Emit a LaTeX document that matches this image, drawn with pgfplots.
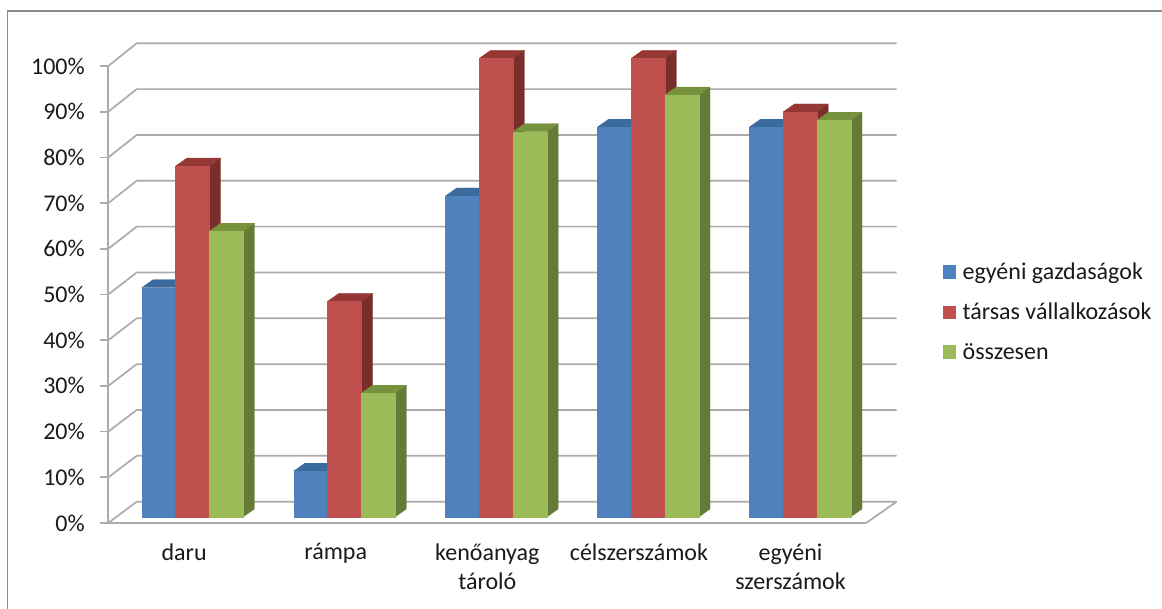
\documentclass[border=0pt]{standalone}
\usepackage{pgfplots}
\pgfplotsset{compat=1.18}
\usepackage{fontspec}
\setmainfont{Carlito}
\definecolor{gridgray}{HTML}{ABABAB}
\definecolor{framegray}{HTML}{8C8C8C}
\definecolor{inktext}{HTML}{1A1A1A}
\definecolor{bluefront}{HTML}{4F81BD}
\definecolor{bluetop}{HTML}{3B6A9C}
\definecolor{blueside}{HTML}{375F8C}
\definecolor{redfront}{HTML}{C0504D}
\definecolor{redtop}{HTML}{953735}
\definecolor{redside}{HTML}{7A2E2B}
\definecolor{greenfront}{HTML}{9BBB59}
\definecolor{greentop}{HTML}{76923C}
\definecolor{greenside}{HTML}{647A37}

% One column: left edge, value, colour stem. Depth is 11.3 across, 1.74 up.
\newcommand{\barbox}[3]{%
  \pgfmathsetmacro\xr{#1+33.8}%
  \pgfmathsetmacro\xb{#1+45.1}%
  \pgfmathsetmacro\xl{#1+11.3}%
  \pgfmathsetmacro\yb{#2+1.74}%
  \edef\tmp{%
    \noexpand\addplot[forget plot,fill=#3side,draw=#3side,line width=0.2pt]
      coordinates {(\xr,0)(\xb,1.74)(\xb,\yb)(\xr,#2)} --cycle;
    \noexpand\addplot[forget plot,fill=#3top,draw=#3top,line width=0.2pt]
      coordinates {(#1,#2)(\xr,#2)(\xb,\yb)(\xl,\yb)} --cycle;
    \noexpand\addplot[forget plot,fill=#3front,draw=#3front,line width=0.2pt]
      coordinates {(#1,0)(\xr,0)(\xr,#2)(#1,#2)} --cycle;
  }\tmp
}
% One gridline: up the side wall, then along the back wall.
\newcommand{\gridline}[2]{%
  \addplot[forget plot,gridgray,line width=1.7pt]
    coordinates {(108.3,#1)(136.7,#2)(896.7,#2)};
}

\begin{document}
\begin{tikzpicture}[x=1pt,y=1pt]
\useasboundingbox (0,0) rectangle (1162,608);
\draw[framegray,line width=1.4pt] (7.5,-5) -- (7.5,597) -- (1170,597);
\begin{axis}[
  at={(108.3pt,85pt)},anchor=south west,
  scale only axis,width=757.7pt,height=457pt,
  xmin=108.3,xmax=866,ymin=-1.31,ymax=98.32,
  clip=false,
  axis lines*=left,
  axis line style={draw=gridgray,line width=1.7pt,-},
  tick style={draw=gridgray,line width=1.7pt},
  tick align=outside,
  major tick length=8pt,
  font=\fontsize{24}{29}\selectfont\color{inktext},
  ytick={-1.31,8.65,18.62,28.58,38.54,48.51,58.47,68.43,78.39,88.36,98.32},
  yticklabels={0\%,10\%,20\%,30\%,40\%,50\%,60\%,70\%,80\%,90\%,100\%},
  yticklabel style={xshift=-12pt},
  xtick={184.1,335.7,487.3,638.9,790.5},
  xticklabels={daru,rámpa,{kenőanyag\\tároló},célszerszámok,{egyéni\\szerszámok}},
  xticklabel style={align=center,yshift=-9pt},
  x tick style={draw=none},
  extra x ticks={108.3,259.9,411.5,563.1,714.7,866},
  extra x tick labels={},
  extra x tick style={tick style={draw=gridgray,line width=1.7pt}},
  legend style={at={(axis cs:939.5,44.7)},anchor=west,draw=none,fill=none,
    font=\fontsize{24}{24}\selectfont\color{inktext},
    /tikz/row sep=18pt,/tikz/column sep=5pt,cells={anchor=west}},
  legend cell align=left,
  legend image code/.code={\fill[#1] (0,-6pt) rectangle (12.5pt,6.5pt);},
]
\gridline{-1.31}{3.34}
\gridline{8.65}{13.33}
\gridline{18.62}{23.33}
\gridline{28.58}{33.32}
\gridline{38.54}{43.31}
\gridline{48.51}{53.31}
\gridline{58.47}{63.30}
\gridline{68.43}{73.29}
\gridline{78.39}{83.28}
\gridline{88.36}{93.28}
\gridline{98.32}{103.27}
\addplot[forget plot,gridgray,line width=1.7pt] coordinates {(866,-1.31)(896.7,3.34)};

\barbox{141.7}{50}{blue}
\barbox{175.5}{76.5}{red}
\barbox{209.3}{62.3}{green}

\barbox{293.6}{10}{blue}
\barbox{327.4}{47}{red}
\barbox{361.2}{27}{green}

\barbox{445.5}{70}{blue}
\barbox{479.3}{100}{red}
\barbox{513.1}{84}{green}

\barbox{597.4}{85}{blue}
\barbox{631.2}{100}{red}
\barbox{665}{92}{green}

\barbox{749.3}{85}{blue}
\barbox{783.1}{88.3}{red}
\barbox{816.9}{86.5}{green}

\addlegendimage{bluefront}
\addlegendentry{egyéni gazdaságok}
\addlegendimage{redfront}
\addlegendentry{társas vállalkozások}
\addlegendimage{greenfront}
\addlegendentry{összesen}
\end{axis}
\end{tikzpicture}
\end{document}
